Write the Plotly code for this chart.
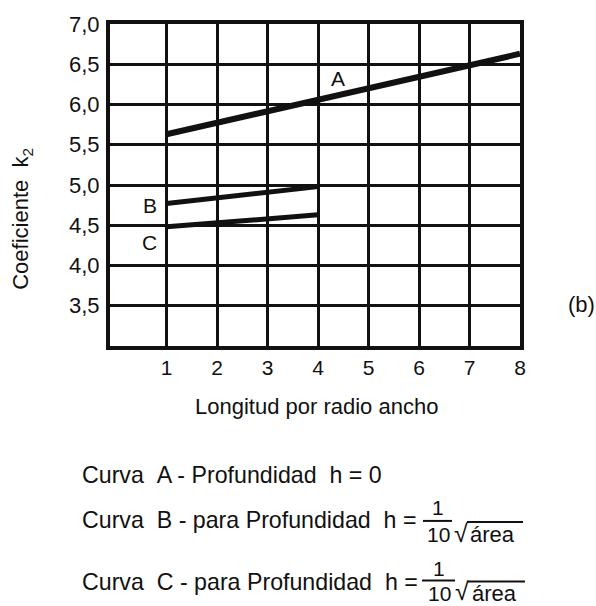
import plotly.graph_objects as go

# ---- data ----
x_tick_vals = [1, 2, 3, 4, 5, 6, 7, 8]
x_tick_text = ["1", "2", "3", "4", "5", "6", "7", "8"]
y_tick_vals = [3.5, 4.0, 4.5, 5.0, 5.5, 6.0, 6.5, 7.0]
y_tick_text = ["3,5", "4,0", "4,5", "5,0", "5,5", "6,0", "6,5", "7,0"]

curve_a_x = [1, 8]
curve_a_y = [5.63, 6.63]
curve_b_x = [1, 4]
curve_b_y = [4.77, 4.98]
curve_c_x = [1, 4]
curve_c_y = [4.48, 4.63]

curve_names = ["A", "B", "C"]
curve_label_x = [4.40, 0.67, 0.67]
curve_label_y = [6.32, 4.74, 4.28]

x_title = "Longitud por radio ancho"
y_title = "Coeficiente\u00a0\u00a0k<sub>2</sub>"
panel_label = "(b)"
legend_lines = [
    "Curva\u00a0\u00a0A - Profundidad\u00a0\u00a0h = 0",
    "Curva\u00a0\u00a0B - para Profundidad\u00a0\u00a0h =",
    "Curva\u00a0\u00a0C - para Profundidad\u00a0\u00a0h =",
]
frac_num = "1"
frac_den = "10"
root_sym = "\u221a"
root_arg = "área"

# ---- layout geometry (pixels) ----
W, H = 596, 606
L, R, T, B = 110, 76, 22, 260
PW, PH = W - L - R, H - T - B
FONT = "Liberation Sans, Arial, sans-serif"
INK = "#111111"


def px(X):
    return (X - L) / PW


def py(Y):
    return (T + PH - Y) / PH


def label(X, Y, text, size=22, xanchor="center", angle=0):
    return dict(x=px(X), y=py(Y), xref="paper", yref="paper", text=text,
                xanchor=xanchor, yanchor="middle", textangle=angle,
                showarrow=False, font=dict(size=size, color=INK, family=FONT))


fig = go.Figure()
for xs, ys, w in [(curve_a_x, curve_a_y, 6), (curve_b_x, curve_b_y, 5), (curve_c_x, curve_c_y, 5)]:
    fig.add_trace(go.Scatter(x=xs, y=ys, mode="lines",
                             line=dict(color=INK, width=w), showlegend=False,
                             hoverinfo="skip"))

ann = []
for name, lx, ly in zip(curve_names, curve_label_x, curve_label_y):
    ann.append(dict(x=lx, y=ly, xref="x", yref="y", text=name, showarrow=False,
                    xanchor="center", yanchor="middle",
                    font=dict(size=21, color=INK, family=FONT)))

# axis titles and panel label
ann.append(label(316, 407, x_title, 22))
ann.append(label(22, 218, y_title, 22, angle=-90))
ann.append(label(581, 304, panel_label, 22))

# legend text lines
line_y = [476, 521, 583]
for txt, Y in zip(legend_lines, line_y):
    ann.append(label(80, Y, txt, 23.2, xanchor="left"))

shapes = []
fracs = [
    dict(cx=438, num_y=509, bar_y=522, den_y=536, bar=(423, 452), root_x=461, arg_x=468, over=(467, 523)),
    dict(cx=439, num_y=570, bar_y=582, den_y=595, bar=(422, 455), root_x=462, arg_x=470, over=(468, 525)),
]
for f in fracs:
    ann.append(label(f["cx"], f["num_y"], frac_num, 21))
    ann.append(label(f["cx"], f["den_y"], frac_den, 21))
    ann.append(label(f["root_x"], f["den_y"] - 2, root_sym, 25))
    ann.append(label(f["arg_x"], f["den_y"], root_arg, 22, xanchor="left"))
    shapes.append(dict(type="line", xref="paper", yref="paper",
                       x0=px(f["bar"][0]), x1=px(f["bar"][1]), y0=py(f["bar_y"]), y1=py(f["bar_y"]),
                       line=dict(color=INK, width=2)))
    shapes.append(dict(type="line", xref="paper", yref="paper",
                       x0=px(f["over"][0]), x1=px(f["over"][1]), y0=py(f["bar_y"] + 1), y1=py(f["bar_y"] + 1),
                       line=dict(color=INK, width=2)))

fig.update_layout(
    width=W, height=H,
    margin=dict(l=L, r=R, t=T, b=B, pad=0),
    paper_bgcolor="white", plot_bgcolor="white",
    font=dict(family=FONT, size=22, color=INK),
    annotations=ann, shapes=shapes, showlegend=False,
)
fig.update_xaxes(range=[-0.12, 8], tickvals=x_tick_vals, ticktext=x_tick_text,
                 showgrid=True, gridcolor=INK, gridwidth=3,
                 showline=True, linecolor=INK, linewidth=4, mirror=True,
                 ticks="", ticklabelstandoff=0, zeroline=False,
                 tickfont=dict(size=21, color=INK, family=FONT))
fig.update_yaxes(range=[3.0, 7.0], tickvals=y_tick_vals, ticktext=y_tick_text,
                 showgrid=True, gridcolor=INK, gridwidth=3,
                 showline=True, linecolor=INK, linewidth=4, mirror=True,
                 ticks="", ticklabelstandoff=2, zeroline=False,
                 tickfont=dict(size=22, color=INK, family=FONT))

fig.write_html("out.html", config={"displayModeBar": False},
               post_script="document.body.style.margin='0px';document.body.style.overflow='hidden';")
